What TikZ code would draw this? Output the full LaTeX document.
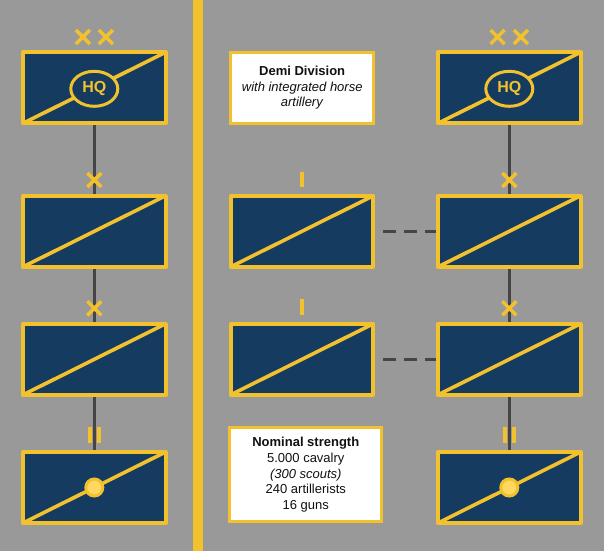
\documentclass[tikz,border=0pt]{standalone}
\usepackage{fontspec}
\setmainfont{Liberation Sans}
\usetikzlibrary{shapes.geometric}
\definecolor{bg}{HTML}{999999}
\definecolor{gold}{HTML}{F2C12E}
\definecolor{navy}{HTML}{163B61}
\definecolor{lightgold}{HTML}{FFD862}
\definecolor{linkgray}{HTML}{454545}
\definecolor{ink}{HTML}{111111}
\begin{document}
\begin{tikzpicture}[x=1pt,y=-1pt,
  unitbox/.style={draw=gold,line width=4pt,fill=navy,minimum width=142.5pt,minimum height=71pt,inner sep=0pt,outer sep=0pt,line join=round},
  diag/.style={gold,line width=3.6pt},
  hqoval/.style={ellipse,draw=gold,line width=3pt,fill=navy,minimum width=47pt,minimum height=35pt,inner sep=0pt,text=gold,font=\fontsize{16}{16}\selectfont\bfseries},
  dotmark/.style={circle,draw=gold,line width=3pt,fill=lightgold,minimum size=17pt,inner sep=0pt},
  link/.style={linkgray,line width=3pt,shorten <=2pt,shorten >=2pt},
  dashlink/.style={linkgray,line width=3pt,shorten <=2pt,shorten >=2pt,dash pattern=on 13pt off 8pt,dash phase=13pt},
  infobox/.style={draw=gold,line width=3pt,fill=white,inner sep=0pt,outer sep=0pt,align=center,text=ink,font=\fontsize{13}{15.6}\selectfont},
  crossmark/.pic={\draw[gold,line width=3.5pt] (-7,-7) -- (7,7) (-7,7) -- (7,-7);},
  barmark/.pic={\draw[gold,line width=4pt] (0,-7.8) -- (0,7.8);}
]
\fill[bg] (0,0) rectangle (604,551);
\useasboundingbox (0,0) rectangle (604,551);
\draw[gold,line width=9.4pt] (198,0) -- (198,551);

% left column
\node[unitbox] (L1) at (94.3,87.8) {};
\node[unitbox] (L2) at (94.3,231.3) {};
\node[unitbox] (L3) at (94.3,359.3) {};
\node[unitbox] (L4) at (94.3,487.5) {};
% middle column
\node[unitbox] (M2) at (302,231.3) {};
\node[unitbox] (M3) at (302,359.3) {};
% right column
\node[unitbox] (R1) at (509.3,87.8) {};
\node[unitbox] (R2) at (509.3,231.3) {};
\node[unitbox] (R3) at (509.3,359.3) {};
\node[unitbox] (R4) at (509.3,487.5) {};

\foreach \b in {L1,L2,L3,L4,M2,M3,R1,R2,R3,R4}
  \draw[diag] (\b.south west) -- (\b.north east);

\node[hqoval] (L1hq) at ([yshift=-1pt]L1.center) {HQ};
\node[hqoval] (R1hq) at ([yshift=-1pt]R1.center) {HQ};
\node[dotmark] (L4dot) at (L4.center) {};
\node[dotmark] (R4dot) at (R4.center) {};

% info boxes
\node[infobox,minimum width=142.7pt,minimum height=71pt] (T1) at (302.2,88)
  {\textbf{Demi Division}\\\textit{with integrated horse}\\\textit{artillery}};
\node[infobox,minimum width=152pt,minimum height=94.3pt] (T2) at (305.8,474.7)
  {\textbf{Nominal strength}\\5.000 cavalry\\\textit{(300 scouts)}\\240 artillerists\\16 guns};

% connectors
\draw[link] (L1) -- (L2);
\draw[link] (L2) -- (L3);
\draw[link] (L3) -- (L4);
\draw[link] (R1) -- (R2);
\draw[link] (R2) -- (R3);
\draw[link] (R3) -- (R4);
\draw[dashlink] (M2) -- (R2);
\draw[dashlink] (M3) -- (R3);

% echelon marks
\pic at (82.8,37) {crossmark};
\pic at (105.8,37) {crossmark};
\pic at (497.5,37) {crossmark};
\pic at (520.8,37) {crossmark};
\pic at (94.3,180) {crossmark};
\pic at (94.3,308.3) {crossmark};
\pic at (509.3,180) {crossmark};
\pic at (509.3,308.3) {crossmark};
\pic at (302,179.5) {barmark};
\pic at (302,307) {barmark};
\pic at (90.1,435) {barmark};
\pic at (98.5,435) {barmark};
\pic at (505.1,435) {barmark};
\pic at (513.5,435) {barmark};
\end{tikzpicture}
\end{document}
